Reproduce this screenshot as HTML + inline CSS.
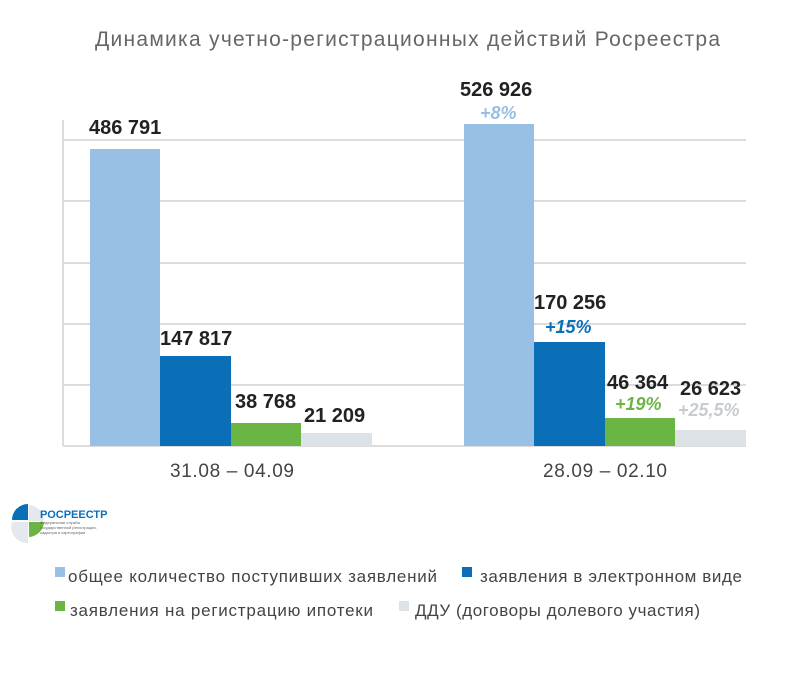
<!DOCTYPE html>
<html><head><meta charset="utf-8"><style>
body{margin:0;background:#fff;width:800px;height:678px;overflow:hidden;font-family:"Liberation Sans","DejaVu Sans",sans-serif}
</style></head><body>
<svg width="800" height="678" xmlns="http://www.w3.org/2000/svg" font-family="Liberation Sans, DejaVu Sans, sans-serif">
<text x="95" y="46" font-size="21" fill="#666" textLength="625" lengthAdjust="spacing">Динамика учетно-регистрационных действий Росреестра</text>
<g stroke="#dcdcdc" stroke-width="2">
<line x1="63" y1="140" x2="746" y2="140"/><line x1="63" y1="201" x2="746" y2="201"/>
<line x1="63" y1="263" x2="746" y2="263"/><line x1="63" y1="324" x2="746" y2="324"/>
<line x1="63" y1="385" x2="746" y2="385"/><line x1="63" y1="446" x2="746" y2="446"/>
<line x1="63" y1="120" x2="63" y2="446"/>
</g>
<rect x="90" y="149" width="70" height="297" fill="#98bfe4"/>
<rect x="160" y="356" width="71" height="90" fill="#0b6fb8"/>
<rect x="231" y="423" width="70" height="23" fill="#6bb545"/>
<rect x="301" y="433" width="71" height="13" fill="#dde2e7"/>
<rect x="464" y="124" width="70" height="322" fill="#98bfe4"/>
<rect x="534" y="342" width="71" height="104" fill="#0b6fb8"/>
<rect x="605" y="418" width="70" height="28" fill="#6bb545"/>
<rect x="675" y="430" width="71" height="16" fill="#dde2e7"/>
<g font-size="20" font-weight="bold" fill="#222">
<text x="89" y="134">486 791</text>
<text x="160" y="345">147 817</text>
<text x="235" y="408">38 768</text>
<text x="304" y="422">21 209</text>
<text x="460" y="96">526 926</text>
<text x="534" y="309">170 256</text>
<text x="607" y="389">46 364</text>
<text x="680" y="395">26 623</text>
</g>
<g font-size="18" font-weight="bold" font-style="italic">
<text x="480" y="119" fill="#98bfe4">+8%</text>
<text x="545" y="333" fill="#0b6fb8">+15%</text>
<text x="615" y="410" fill="#6bb545">+19%</text>
<text x="678" y="416" fill="#c8ccd0">+25,5%</text>
</g>
<g font-size="19" fill="#444"><text x="170" y="477" textLength="124">31.08 – 04.09</text><text x="543" y="477" textLength="124">28.09 – 02.10</text></g>
<path d="M12 520 A16 16 0 0 1 28 504 L28 520 Z" fill="#0b6fb8"/>
<path d="M29 521 L29 505 A16 16 0 0 1 44 521 Z" fill="#e5e9ee"/>
<path d="M29 522 L44 522 A16 16 0 0 1 29 537 Z" fill="#6bb545"/>
<path d="M12 522 L28 522 L28 543 A16 16 0 0 1 12 522 Z" fill="#e5e9ee"/>
<text x="40" y="518" font-size="11" font-weight="bold" fill="#0b6fb8">РОСРЕЕСТР</text>
<text x="40" y="524" font-size="4" fill="#666">Федеральная служба</text>
<text x="40" y="529" font-size="4" fill="#666">государственной регистрации,</text>
<text x="40" y="534" font-size="4" fill="#666">кадастра и картографии</text>
<g font-size="17" fill="#444">
<rect x="55" y="567" width="10" height="10" fill="#98bfe4"/><text x="68" y="582" textLength="369">общее количество поступивших заявлений</text>
<rect x="462" y="567" width="10" height="10" fill="#0b6fb8"/><text x="480" y="582" textLength="262">заявления в электронном виде</text>
<rect x="55" y="601" width="10" height="10" fill="#6bb545"/><text x="70" y="616" textLength="303">заявления на регистрацию ипотеки</text>
<rect x="399" y="601" width="10" height="10" fill="#dde2e7"/><text x="415" y="616" textLength="285">ДДУ (договоры долевого участия)</text>
</g>
</svg>
</body></html>
